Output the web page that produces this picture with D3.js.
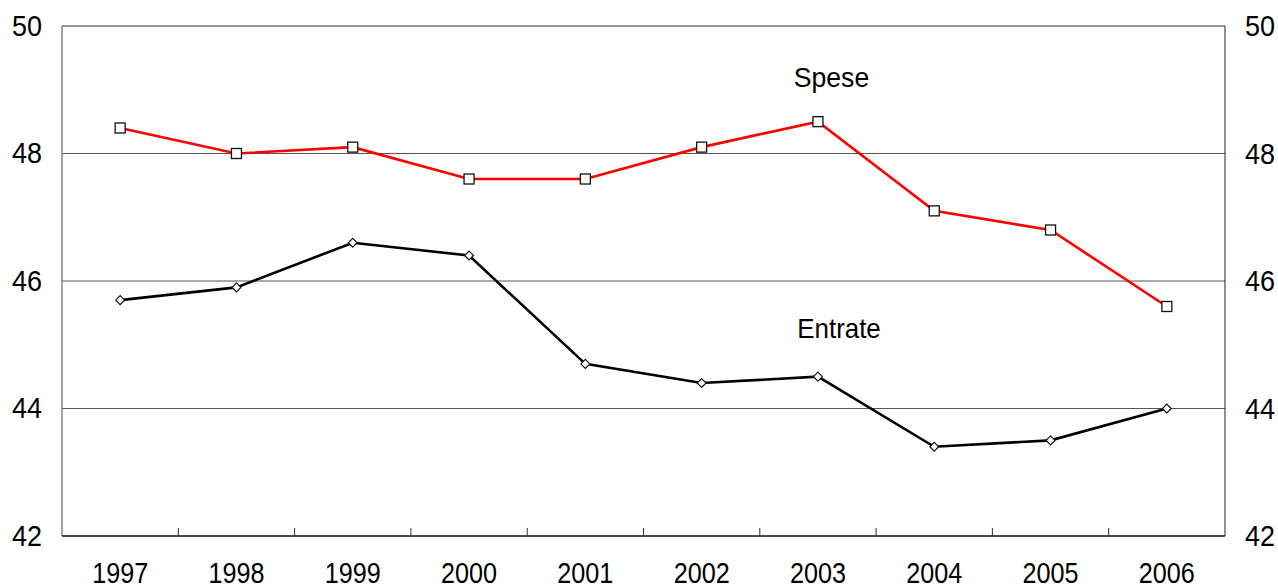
<!DOCTYPE html>
<html>
<head>
<meta charset="utf-8">
<script src="https://cdn.jsdelivr.net/npm/d3@7"></script>
<style>
  html, body { margin: 0; padding: 0; background: #fff; }
  svg { display: block; font-family: "Liberation Sans", Arial, sans-serif; }
</style>
</head>
<body>
<svg id="chart" width="1278" height="587"></svg>
<script>
// Anni e serie (% del PIL)
const years = ["1997", "1998", "1999", "2000", "2001", "2002", "2003", "2004", "2005", "2006"];
const spese = [48.4, 48.0, 48.1, 47.6, 47.6, 48.1, 48.5, 47.1, 46.8, 45.6];
const entrate = [45.7, 45.9, 46.6, 46.4, 44.7, 44.4, 44.5, 43.4, 43.5, 44.0];
const yTicks = [42, 44, 46, 48, 50];

const svg = d3.select("#chart");
const plotL = 62, plotR = 1225, plotT = 26, plotB = 536;

const x = d3.scaleBand().domain(years).range([plotL, plotR]).padding(0);
const y = d3.scaleLinear().domain([42, 50]).range([plotB, plotT]);

// testo leggermente allungato in verticale
function label(g, px, py, size, stretch, anchor, txt) {
  return g.append("text")
    .attr("transform", `translate(${px},${py}) scale(1,${stretch})`)
    .attr("text-anchor", anchor)
    .attr("font-size", size)
    .attr("fill", "#000")
    .text(txt);
}

// griglia orizzontale
svg.append("g")
  .selectAll("line")
  .data(yTicks.filter(v => v > 42 && v < 50))
  .join("line")
  .attr("x1", plotL).attr("x2", plotR)
  .attr("y1", d => y(d)).attr("y2", d => y(d))
  .attr("stroke", "#555").attr("stroke-width", 1);

// cornice superiore e assi verticali
svg.append("line").attr("x1", plotL).attr("x2", plotR).attr("y1", plotT).attr("y2", plotT)
  .attr("stroke", "#333").attr("stroke-width", 1);
svg.append("line").attr("x1", plotL).attr("x2", plotL).attr("y1", plotT).attr("y2", plotB)
  .attr("stroke", "#666").attr("stroke-width", 1.2);
svg.append("line").attr("x1", plotR).attr("x2", plotR).attr("y1", plotT).attr("y2", plotB)
  .attr("stroke", "#222").attr("stroke-width", 1);

// asse x con tacche ai confini delle categorie
const xAxis = svg.append("g");
xAxis.append("line").attr("x1", plotL).attr("x2", plotR).attr("y1", plotB).attr("y2", plotB)
  .attr("stroke", "#111").attr("stroke-width", 1.5);
xAxis.selectAll("line.tick")
  .data(years.slice(1))
  .join("line")
  .attr("class", "tick")
  .attr("x1", d => x(d)).attr("x2", d => x(d))
  .attr("y1", plotB).attr("y2", plotB - 8)
  .attr("stroke", "#333").attr("stroke-width", 1);
const xLabels = svg.append("g");
years.forEach(d => label(xLabels, x(d) + x.bandwidth() / 2, plotB + 47, 25.2, 1.15, "middle", d));

// etichette asse y (sinistra e destra)
const yLeft = svg.append("g");
const yRight = svg.append("g");
yTicks.forEach(v => {
  label(yLeft, 42, y(v) + 9.5, 27, 1.08, "end", v);
  label(yRight, 1245, y(v) + 10, 27, 1.08, "start", v);
});

const cx = (d, i) => x(years[i]) + x.bandwidth() / 2;
const line = d3.line().x((d, i) => cx(d, i)).y(d => y(d));

// Spese
svg.append("path").datum(spese)
  .attr("d", line).attr("fill", "none")
  .attr("stroke", "#ff0000").attr("stroke-width", 2.6);
svg.append("g").selectAll("rect")
  .data(spese).join("rect")
  .attr("x", (d, i) => cx(d, i) - 5).attr("y", d => y(d) - 5)
  .attr("width", 10).attr("height", 10)
  .attr("fill", "#fff").attr("stroke", "#111").attr("stroke-width", 1.3);

// Entrate
svg.append("path").datum(entrate)
  .attr("d", line).attr("fill", "none")
  .attr("stroke", "#000").attr("stroke-width", 2.6);
const diamond = d3.symbol().type(d3.symbolDiamond2).size(50);
svg.append("g").selectAll("path")
  .data(entrate).join("path")
  .attr("d", diamond)
  .attr("transform", (d, i) => `translate(${cx(d, i)},${y(d)})`)
  .attr("fill", "#fff").attr("stroke", "#111").attr("stroke-width", 1.2);

// etichette serie
const seriesLabels = svg.append("g");
label(seriesLabels, 831.5, 87, 26.6, 1.05, "middle", "Spese");
label(seriesLabels, 839, 338, 25.9, 1.08, "middle", "Entrate");
</script>
</body>
</html>
